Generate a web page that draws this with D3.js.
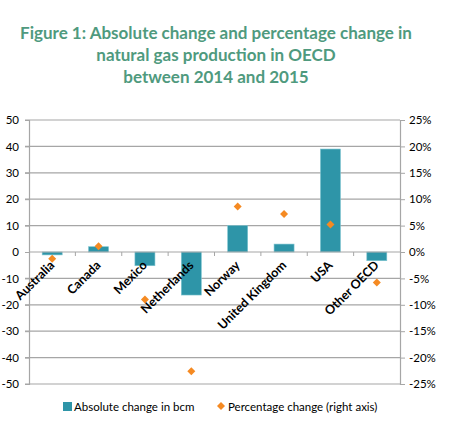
<!DOCTYPE html>
<html><head><meta charset="utf-8">
<script src="https://cdn.jsdelivr.net/npm/d3@7"></script>
<style>body{margin:0;background:#fff;} svg{display:block;}</style>
</head><body>
<svg id="c" width="453" height="426"></svg>
<script>
const categories = ["Australia","Canada","Mexico","Netherlands","Norway","United Kingdom","USA","Other OECD"];
const absoluteChange = [-1.1, 2.0, -5.2, -16.3, 10.0, 3.0, 39.0, -3.3];
const percentChange = [-1.3, 1.1, -9.0, -22.6, 8.6, 7.2, 5.2, -5.8];
const leftTicks = [50,40,30,20,10,0,-10,-20,-30,-40,-50];
const rightTicks = [25,20,15,10,5,0,-5,-10,-15,-20,-25];
const titleLines = ["Figure 1: Absolute change and percentage change in","natural gas production in OECD","between 2014 and 2015"];
const legendLabels = ["Absolute change in bcm","Percentage change (right axis)"];

const svg = d3.select("#c");
const font = "Lato, 'Open Sans', sans-serif";
const L = 29, R = 400, T = 120, B = 384;
const x = d3.scaleBand().domain(categories).range([L, R]);
const y = d3.scaleLinear().domain([-50, 50]).range([B, T]);
const y2 = d3.scaleLinear().domain([-25, 25]).range([B, T]);

// title
svg.append("g").selectAll("text").data(titleLines).join("text")
  .attr("x", 216).attr("y", (d,i)=>39 + i*22)
  .attr("text-anchor","middle").attr("font-family", font).attr("font-weight","bold")
  .attr("font-size", 17).attr("fill", "#4F9A7E").text(d=>d);

// gridlines
svg.append("g").selectAll("line").data(leftTicks.filter(d=>d!==0)).join("line")
  .attr("x1", L-4).attr("x2", R).attr("y1", d=>y(d)).attr("y2", d=>y(d))
  .attr("stroke", "#A6A6A6").attr("stroke-width", 1.2);

// left axis
const la = svg.append("g").attr("transform",`translate(${L},0)`)
  .call(d3.axisLeft(y).tickValues(leftTicks).tickSize(4).tickPadding(6).tickFormat(d=>String(d)));
la.select(".domain").attr("stroke","#A6A6A6").attr("stroke-width",1.2);
la.selectAll(".tick line").attr("stroke","#A6A6A6");
la.selectAll("text").attr("font-family",font).attr("font-size",11.5).attr("fill","#000");

// right axis
const ra = svg.append("g").attr("transform",`translate(${R},0)`)
  .call(d3.axisRight(y2).tickValues(rightTicks).tickSize(5).tickPadding(4).tickFormat(d=>String(d)+"%"));
ra.select(".domain").attr("stroke","#A6A6A6").attr("stroke-width",1.2);
ra.selectAll(".tick line").attr("stroke","#A6A6A6");
ra.selectAll("text").attr("font-family",font).attr("font-size",11.5).attr("fill","#000");

// bars
const bw = 20;
svg.append("g").selectAll("rect").data(categories).join("rect")
  .attr("x", d=>x(d)+x.bandwidth()/2-bw/2).attr("width", bw)
  .attr("y", (d,i)=>Math.min(y(absoluteChange[i]), y(0)))
  .attr("height", (d,i)=>Math.abs(y(absoluteChange[i])-y(0)))
  .attr("fill","#2E95A8").attr("stroke","#7CC3CF").attr("stroke-width",0.6);

// zero axis
svg.append("line").attr("x1",L).attr("x2",R).attr("y1",y(0)).attr("y2",y(0))
  .attr("stroke","#A6A6A6").attr("stroke-width",1.2);
const bounds = categories.slice(1).map(c=>x(c));
svg.append("g").selectAll("line").data(bounds).join("line")
  .attr("x1",d=>d).attr("x2",d=>d).attr("y1",y(0)).attr("y2",y(0)+4)
  .attr("stroke","#A6A6A6").attr("stroke-width",1);

// category labels
svg.append("g").selectAll("text").data(categories).join("text")
  .attr("transform", d=>`translate(${x(d)+x.bandwidth()/2+3},${y(0)+14}) rotate(-45)`)
  .attr("text-anchor","end").attr("font-family",font).attr("font-weight","bold")
  .attr("font-size",12.5).attr("fill","#000").text(d=>d);

// diamonds (square rotated 45deg)
const dsym = d3.symbol().type(d3.symbolSquare).size(32);
svg.append("g").selectAll("path").data(categories).join("path")
  .attr("d", dsym)
  .attr("transform",(d,i)=>`translate(${x(d)+x.bandwidth()/2},${y2(percentChange[i])}) rotate(45)`)
  .attr("fill","#F58A22");

// legend
svg.append("rect").attr("x",63).attr("y",402).attr("width",9).attr("height",9).attr("fill","#2E95A8");
svg.append("text").attr("x",74).attr("y",410.5).attr("font-family",font).attr("font-size",11.5).text(legendLabels[0]);
svg.append("path").attr("d", dsym).attr("transform","translate(221,406) rotate(45)").attr("fill","#F58A22");
svg.append("text").attr("x",228).attr("y",410.5).attr("font-family",font).attr("font-size",11.5).text(legendLabels[1]);
</script>
</body></html>
